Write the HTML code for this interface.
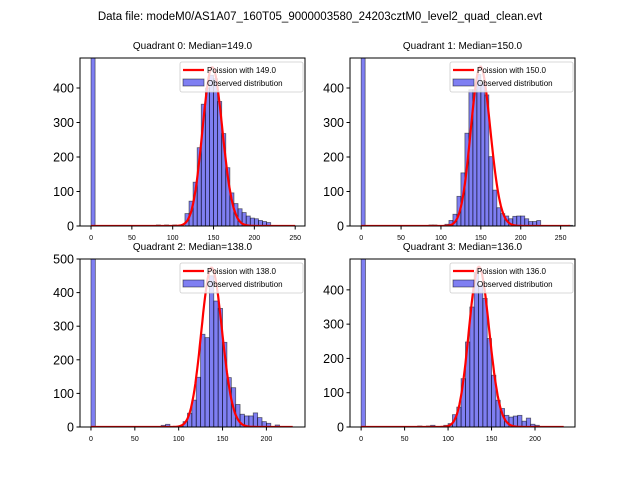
<!DOCTYPE html>
<html><head><meta charset="utf-8"><style>
body{margin:0;background:#fff}
svg{display:block;font-family:"Liberation Sans","DejaVu Sans",sans-serif}
</style></head><body>
<svg id="chart" width="640" height="480" viewBox="0 0 640 480">
<text x="320" y="20" text-anchor="middle" font-size="11.5">Data file: modeM0/AS1A07_160T05_9000003580_24203cztM0_level2_quad_clean.evt</text>
</svg>
<script>
const medians=[149,150,138,136];
const binWidth=5;
const bins0=[0,80,90,100,115,120,125,130,135,140,145,150,155,160,165,170,175,180,185,190,195,200,205,210,215];
const counts0=[1000,3,3,3,36,72,127,227,353,400,437,427,361,268,169,96,65,50,39,29,23,21,16,13,10];
const bins1=[0,85,90,105,110,115,120,125,130,135,140,145,150,155,160,165,170,175,180,185,190,195,200,205,210,215,220,260];
const counts1=[1000,3,3,5,16,34,86,154,269,395,395,439,414,380,201,104,53,36,29,21,28,29,29,21,13,13,16,2];
const bins2=[0,80,85,100,105,110,115,120,125,130,135,140,145,150,155,160,165,170,175,180,185,190,195,200,210];
const counts2=[1000,5,8,3,16,41,80,148,276,266,450,375,353,252,147,117,67,38,33,33,42,28,16,11,6];
const bins3=[0,65,75,80,95,100,105,110,115,120,125,130,135,140,145,150,155,160,165,170,175,180,185,190,195,200];
const counts3=[1000,3,3,5,5,10,36,58,141,248,350,451,414,375,258,151,78,54,34,29,32,34,17,26,8,5];
const curvePeaks=[460,462,474,467];
const yTicks0=[0,100,200,300,400];
const yTicks1=[0,100,200,300,400];
const yTicks2=[0,100,200,300,400,500];
const yTicks3=[0,100,200,300,400];
const xTicks0=[0,50,100,150,200,250];
const xTicks1=[0,50,100,150,200,250];
const xTicks2=[0,50,100,150,200];
const xTicks3=[0,50,100,150,200];
const xMax=[250,262,230,233];

const binsAll=[bins0,bins1,bins2,bins3],countsAll=[counts0,counts1,counts2,counts3];
const yT=[yTicks0,yTicks1,yTicks2,yTicks3],xT=[xTicks0,xTicks1,xTicks2,xTicks3];
const boxes=[{x:80,y:58,w:225,h:168,xmin:-13.5,xmax:262,ymax:487},
{x:350,y:58,w:225,h:168,xmin:-14,xmax:268,ymax:487},
{x:80,y:259,w:225,h:168,xmin:-12.5,xmax:244,ymax:500},
{x:350,y:259,w:225,h:168,xmin:-12.8,xmax:246,ymax:490}];
const svg=document.getElementById('chart');
const NS='http://www.w3.org/2000/svg';
function mk(t,a,p){const e=document.createElementNS(NS,t);for(const k in a)e.setAttribute(k,a[k]);(p||svg).appendChild(e);return e;}
function lnfact(k){let s=0;for(let i=2;i<=k;i++)s+=Math.log(i);return s;}
boxes.forEach((b,q)=>{
  const g=mk('g',{});
  
  
  const sx=v=>b.x+(v-b.xmin)/(b.xmax-b.xmin)*b.w;
  const sy=v=>b.y+b.h-v/b.ymax*b.h;
  const clipId='c'+q;
  const cp=mk('clipPath',{id:clipId},g);mk('rect',{x:b.x,y:b.y,width:b.w,height:b.h},cp);
  const bars=mk('g',{'clip-path':'url(#'+clipId+')'},g);
  binsAll[q].forEach((s,i)=>{
    const r=mk('rect',{x:sx(s),y:sy(countsAll[q][i]),width:sx(s+binWidth)-sx(s),height:sy(0)-sy(countsAll[q][i]),fill:'rgba(0,0,230,0.5)',stroke:'rgba(0,0,0,0.55)','stroke-width':0.8},bars);
    
    
  });
  const m=medians[q];const lp=k=>k*Math.log(m)-m-lnfact(k);const pk=lp(Math.floor(m));
  let d='';for(let k=0;k<=xMax[q];k++){d+=(k?'L':'M')+sx(k).toFixed(1)+','+sy(curvePeaks[q]*Math.exp(lp(k)-pk)).toFixed(1);}
  const c=mk('path',{d:d,fill:'none',stroke:'red','stroke-width':2.2,'clip-path':'url(#'+clipId+')'},g);
  
  
  mk('rect',{x:b.x,y:b.y,width:b.w,height:b.h,fill:'none',stroke:'#000','stroke-width':1},g);
  yT[q].forEach(v=>{mk('line',{x1:b.x-3.5,x2:b.x,y1:sy(v),y2:sy(v),stroke:'#000'},g);
    const t=mk('text',{x:b.x-6,y:sy(v)+4.5,'text-anchor':'end','font-size':12.5},g);t.textContent=v;
    });
  xT[q].forEach(v=>{mk('line',{x1:sx(v),x2:sx(v),y1:b.y+b.h,y2:b.y+b.h+3.5,stroke:'#000'},g);
    const t=mk('text',{x:sx(v),y:b.y+b.h+14,'text-anchor':'middle','font-size':7},g);t.textContent=v;
    });
  const tt=mk('text',{x:b.x+b.w/2,y:b.y-9,'text-anchor':'middle','font-size':10},g);
  tt.textContent='Quadrant '+q+': Median='+m.toFixed(1);
  
  const lg=mk('g',{},g);
  
  const lx=b.x+b.w-125,ly=b.y+4;
  mk('rect',{x:lx,y:ly,width:123,height:30,rx:2,fill:'rgba(255,255,255,0.8)',stroke:'#ccc','stroke-width':0.8},lg);
  mk('line',{x1:lx+3,x2:lx+24,y1:ly+8,y2:ly+8,stroke:'red','stroke-width':2.2},lg);
  mk('rect',{x:lx+3,y:ly+17,width:21,height:7,fill:'rgba(0,0,230,0.5)',stroke:'rgba(0,0,0,0.55)','stroke-width':0.8},lg);
  const t1=mk('text',{x:lx+27,y:ly+11,'font-size':8},lg);t1.textContent='Poission with '+m.toFixed(1);
  const t2=mk('text',{x:lx+27,y:ly+24,'font-size':8},lg);t2.textContent='Observed distribution';
});
</script>
</body></html>
